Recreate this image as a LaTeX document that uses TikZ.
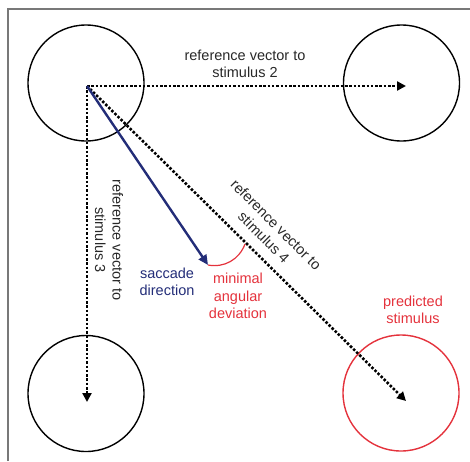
\documentclass[tikz,border=0pt]{standalone}
\usepackage{fontspec}
\setmainfont{Liberation Sans}
\usetikzlibrary{arrows.meta, positioning}
\definecolor{sacblue}{RGB}{35,45,120}
\definecolor{devred}{RGB}{228,50,60}
\definecolor{framegray}{RGB}{120,120,120}
\definecolor{txtgray}{RGB}{40,40,40}

\begin{document}
\begin{tikzpicture}[
    x=1pt, y=-1pt,
    stim/.style={draw, circle, line width=1.4pt, minimum size=116pt, inner sep=0pt},
    refvec/.style={line width=2.6pt, dash pattern=on 2.5pt off 1.8pt, -{Triangle[length=9pt, width=9pt]}},
    lbl/.style={align=center, font=\fontsize{14.5}{17.5}\selectfont, text=txtgray}
]
    \useasboundingbox (0,0) rectangle (470,461);
    \draw[framegray, line width=2pt] (8.3,461) -- (8.3,9.2) -- (470,9.2);

    % stimuli
    \node[stim] (s1) at (86,83) {};
    \node[stim] (s2) at (401.5,83) {};
    \node[stim] (s3) at (86,393.5) {};
    \node[stim, draw=devred] (s4) at (401,393) {};

    \coordinate (o) at (87,86);
    \coordinate (e2) at (406,86);
    \coordinate (e3) at (87,402);
    \coordinate (e4) at (406,401);
    \coordinate (sac) at (208,265);
    \coordinate (dev) at (245,244);

    % reference vectors
    \draw[refvec] (o) -- (e2);
    \draw[refvec] (o) -- (e3);
    \draw[refvec] (o) -- (e4);

    % saccade and deviation
    \draw[sacblue, line width=2.4pt, -{Triangle[length=10pt, width=9pt]}] (o) -- (sac);
    \draw[devred, line width=1.2pt] (sac) to[bend right=40] (dev);

    \node[lbl] (t2) at (245,64) {reference vector to\\stimulus 2};
    \node[lbl, rotate=-90] (t3) at (109,240) {reference vector to\\stimulus 3};
    \node[lbl, rotate=-45] (t4) at (270,231) {reference vector to\\stimulus 4};
    \node[lbl, text=sacblue] (tsac) at (167,282) {saccade\\direction};
    \node[lbl, text=devred] (tdev) at (238,296) {minimal\\angular\\deviation};
    \node[lbl, text=devred] (tpred) at (413,310) {predicted\\stimulus};
\end{tikzpicture}
\end{document}
